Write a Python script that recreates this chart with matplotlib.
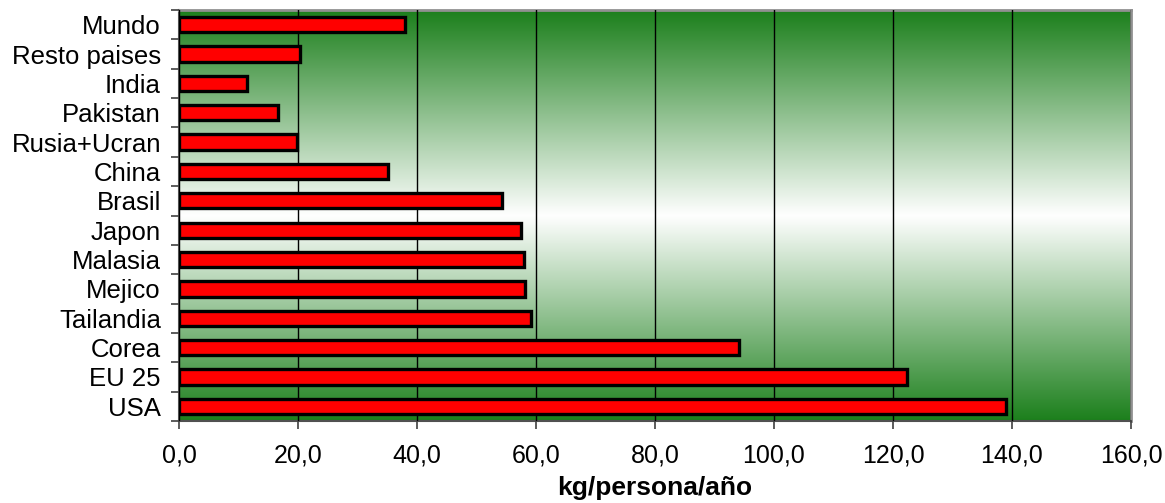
import numpy as np
import matplotlib
matplotlib.use("Agg")
import matplotlib.pyplot as plt
from matplotlib.colors import LinearSegmentedColormap
from matplotlib.ticker import FixedLocator, FuncFormatter

plt.rcParams['font.family'] = ['Liberation Sans', 'DejaVu Sans']

categories = ["Mundo", "Resto paises", "India", "Pakistan", "Rusia+Ucran", "China",
              "Brasil", "Japon", "Malasia", "Mejico", "Tailandia", "Corea", "EU 25", "USA"]
values = [38.0, 20.3, 11.4, 16.7, 19.8, 35.1, 54.3, 57.5, 57.9, 58.1, 59.2, 94.2, 122.3, 139.0]
xticks = [0, 20, 40, 60, 80, 100, 120, 140, 160]
xlabel = "kg/persona/año"

fig = plt.figure(figsize=(11.65, 5.03), dpi=100)
ax = fig.add_axes([179/1165, 1 - 421/503, (1131 - 179)/1165, (421 - 10)/503])

# background gradient: green at top/bottom, white in middle
green = (0.11, 0.50, 0.11)
cmap = LinearSegmentedColormap.from_list("g", [green, (1, 1, 1), green])
grad = np.linspace(0, 1, 256).reshape(-1, 1)
ax.imshow(grad, cmap=cmap, aspect='auto', extent=[0, 1, 0, 1],
          transform=ax.transAxes, zorder=0, interpolation='bilinear')

n = len(categories)
ypos = np.arange(n)
ax.barh(ypos, values, height=0.52, color='#ff0000', edgecolor='black',
        linewidth=2.4, zorder=3)

ax.set_xlim(0, 160)
ax.set_ylim(n - 0.5, -0.5)

ax.set_xticks(xticks)
ax.xaxis.set_major_formatter(FuncFormatter(lambda v, p: f"{v:.1f}".replace('.', ',')))
ax.grid(axis='x', color='black', linewidth=1.0, zorder=1)
ax.set_axisbelow(False)
for gl in ax.get_xgridlines():
    gl.set_zorder(1)

ax.set_yticks(ypos)
ax.set_yticklabels(categories)
ax.yaxis.set_minor_locator(FixedLocator(np.arange(-0.5, n, 1.0)))
ax.tick_params(axis='y', which='major', length=0, pad=13, labelsize=18.5)
ax.tick_params(axis='y', which='minor', length=6, width=1.2, color='#404040', direction='out')
ax.tick_params(axis='x', which='major', length=6, width=1.2, color='#404040',
               direction='out', pad=10, labelsize=18)

for s in ['top', 'right']:
    ax.spines[s].set_color('#909090')
    ax.spines[s].set_linewidth(2.0)
for s in ['left', 'bottom']:
    ax.spines[s].set_color('#505050')
    ax.spines[s].set_linewidth(1.5)

ax.set_xlabel(xlabel, fontsize=19, fontweight='bold', labelpad=6)

fig.savefig("out.png", dpi=100)
